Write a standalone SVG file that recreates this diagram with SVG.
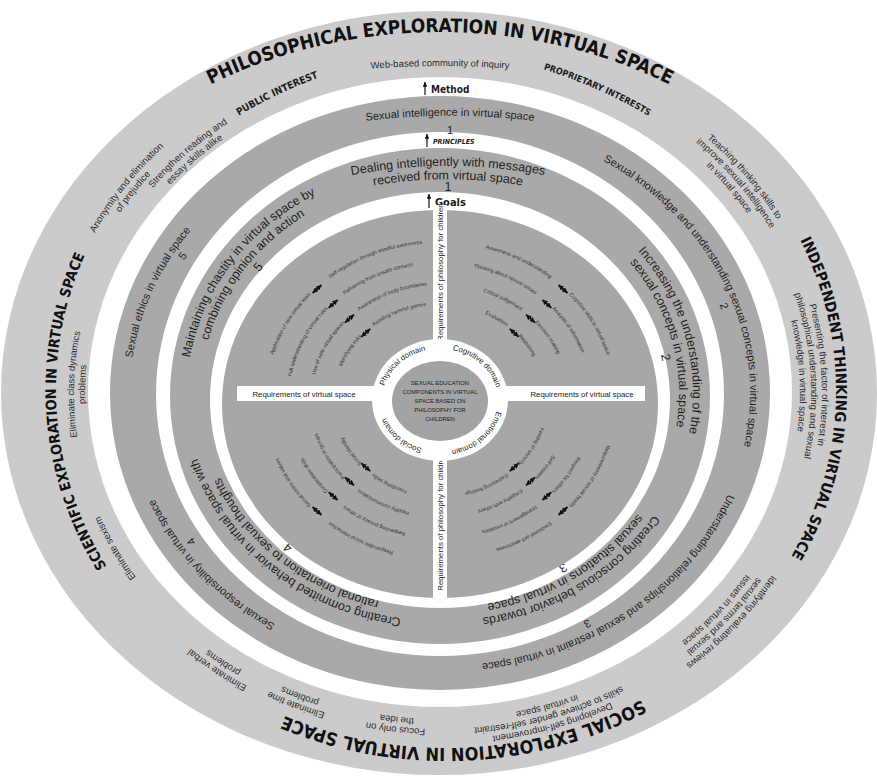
<svg xmlns="http://www.w3.org/2000/svg" width="877" height="780" viewBox="0 0 877 780">
<style>
.ttl{font-family:"DejaVu Sans Condensed","DejaVu Sans","Liberation Sans",sans-serif;font-weight:bold;font-stretch:condensed;fill:#111}
.ob{font-family:"DejaVu Sans Condensed","DejaVu Sans","Liberation Sans",sans-serif;font-weight:bold;font-stretch:condensed;fill:#1c1c1c}
.o{font-family:"Liberation Sans",Arial,sans-serif;font-size:9.5px;fill:#2b2b2b}
.r2{font-family:"Liberation Sans",Arial,sans-serif;font-size:11px;fill:#1f1f1f}
.r3{font-family:"Liberation Sans",Arial,sans-serif;font-size:12.5px;fill:#1f1f1f}
.q{font-family:"Liberation Sans",Arial,sans-serif;font-size:5.3px;fill:#2e2e2e}
.lb{font-family:"Liberation Sans",Arial,sans-serif;font-size:7.8px;fill:#222}
.ctr{font-family:"Liberation Sans",Arial,sans-serif;font-size:5.8px;fill:#222;text-anchor:middle}
.m{text-anchor:middle}
.e{text-anchor:end}
.w{fill:#fff}
.g{fill:#a9a9a9}
.da{stroke:#111;stroke-width:1.8;fill:none;marker-start:url(#ah);marker-end:url(#ah)}
.ua{stroke:#111;stroke-width:1.2;marker-end:url(#up)}
</style>
<defs>
<marker id="ah" viewBox="0 0 6 6" refX="6" refY="3" markerWidth="3" markerHeight="3" orient="auto-start-reverse"><path d="M0,0L6,3L0,6z" fill="#111"/></marker>
<marker id="up" viewBox="0 0 6 6" refX="6" refY="3" markerWidth="4" markerHeight="4" orient="auto"><path d="M0,0L6,3L0,6z" fill="#111"/></marker>
<path id="pTt" d="M0,390A440,358 0 0 1 880,390"/>
<path id="pT" d="M446,748A390,358 0 0 1 446,32A390,358 0 0 1 446,748A390,358 0 0 1 446,32A390,358 0 0 1 446,748"/>
<path id="tWeb" d="M300,77A900,900 0 0 1 580,77"/>
<path id="tPub" d="M222,126A500,500 0 0 1 337,71"/>
<path id="tProp" d="M525,64A500,500 0 0 1 665,126"/>
<path id="tS1" d="M320,128A700,700 0 0 1 580,128"/>
<path id="tS1n" d="M410,135A700,700 0 0 1 490,135"/>
<path id="tD1" d="M330,180A500,500 0 0 1 566,180"/>
<path id="tD2" d="M360,188A450,450 0 0 1 536,188"/>
<path id="tD3" d="M418,192A450,450 0 0 1 478,192"/>
<path id="o1" d="M440,714A355,321 0 0 1 440,72A355,321 0 0 1 440,714A355,321 0 0 1 440,72A355,321 0 0 1 440,714"/>
<path id="o2" d="M440,719A360,326 0 0 1 440,67A360,326 0 0 1 440,719A360,326 0 0 1 440,67A360,326 0 0 1 440,719"/>
<path id="o3" d="M440,724A366,331 0 0 1 440,62A366,331 0 0 1 440,724A366,331 0 0 1 440,62A366,331 0 0 1 440,724"/>
<path id="o4" d="M440,729A371,336 0 0 1 440,57A371,336 0 0 1 440,729A371,336 0 0 1 440,57A371,336 0 0 1 440,729"/>
<path id="o5" d="M440,734A377,341 0 0 1 440,52A377,341 0 0 1 440,734A377,341 0 0 1 440,52A377,341 0 0 1 440,734"/>
<path id="o6" d="M440,739A382,346 0 0 1 440,47A382,346 0 0 1 440,739A382,346 0 0 1 440,47A382,346 0 0 1 440,739"/>
<path id="o7" d="M440,744A388,351 0 0 1 440,42A388,351 0 0 1 440,744A388,351 0 0 1 440,42A388,351 0 0 1 440,744"/>
<path id="r2a" d="M440,666A310,273 0 0 1 440,120A310,273 0 0 1 440,666A310,273 0 0 1 440,120A310,273 0 0 1 440,666"/>
<path id="r2b" d="M440,654A297,261 0 0 1 440,132A297,261 0 0 1 440,654A297,261 0 0 1 440,132A297,261 0 0 1 440,654"/>
<path id="r3a" d="M440,621A253,228 0 0 1 440,165A253,228 0 0 1 440,621A253,228 0 0 1 440,165A253,228 0 0 1 440,621"/>
<path id="r3b" d="M440,608A239,215 0 0 1 440,178A239,215 0 0 1 440,608A239,215 0 0 1 440,178A239,215 0 0 1 440,608"/>
<path id="r3c" d="M440,596A225,203 0 0 1 440,190A225,203 0 0 1 440,596A225,203 0 0 1 440,190A225,203 0 0 1 440,596"/>
<path id="q1" d="M440,557A174,157 0 0 1 440,243A174,157 0 0 1 440,557A174,157 0 0 1 440,243A174,157 0 0 1 440,557"/>
<path id="q2" d="M440,536A151,136 0 0 1 440,264A151,136 0 0 1 440,536A151,136 0 0 1 440,264A151,136 0 0 1 440,536"/>
<path id="q3" d="M440,515A128,115 0 0 1 440,285A128,115 0 0 1 440,515A128,115 0 0 1 440,285A128,115 0 0 1 440,515"/>
<path id="q4" d="M440,495A105,95 0 0 1 440,305A105,95 0 0 1 440,495A105,95 0 0 1 440,305A105,95 0 0 1 440,495"/>
<path id="pc" d="M440,451A58,51 0 0 1 440,349A58,51 0 0 1 440,451A58,51 0 0 1 440,349A58,51 0 0 1 440,451"/>
</defs>

<g id="outer-ring">
<ellipse cx="439" cy="393" rx="438" ry="382" fill="#cbcbcb"/>
<ellipse cx="440" cy="392" rx="352" ry="315" class="w"/>
<text class="ttl m" font-size="19"><textPath href="#pTt" startOffset="50%">PHILOSOPHICAL EXPLORATION IN VIRTUAL SPACE</textPath></text>
<text class="ttl m" font-size="15"><textPath href="#pT" startOffset="37.7%">INDEPENDENT THINKING IN VIRTUAL SPACE</textPath></text>
<text class="ttl m" font-size="18"><textPath href="#pT" startOffset="49.6%">SOCIAL EXPLORATION IN VIRTUAL SPACE</textPath></text>
<text class="ttl m" font-size="14.5"><textPath href="#pT" startOffset="62%">SCIENTIFIC EXPLORATION IN VIRTUAL SPACE</textPath></text>
<text class="ob m" font-size="10"><textPath href="#tPub" startOffset="50%">PUBLIC INTEREST</textPath></text>
<text class="o m" font-size="10.5"><textPath href="#tWeb" startOffset="50%">Web-based community of inquiry</textPath></text>
<text class="ob m" font-size="9"><textPath href="#tProp" startOffset="50%">PROPRIETARY INTERESTS</textPath></text>
<text class="o m" font-size="10"><textPath href="#o7" startOffset="32.4%">Teaching thinking skills to</textPath></text>
<text class="o m" font-size="10"><textPath href="#o5" startOffset="32.4%">improve sexual intelligence</textPath></text>
<text class="o m" font-size="10"><textPath href="#o3" startOffset="32.4%">in virtual space</textPath></text>
<text class="o m"><textPath href="#o6" startOffset="37.1%">Presenting the factor of interest in</textPath></text>
<text class="o m"><textPath href="#o4" startOffset="37.1%">philosophical understanding and sexual</textPath></text>
<text class="o m"><textPath href="#o2" startOffset="37.1%">knowledge in virtual space</textPath></text>
<text class="o m" font-size="9"><textPath href="#o7" startOffset="43%">Identifying evaluating reviews</textPath></text>
<text class="o m" font-size="9"><textPath href="#o5" startOffset="43%">sexual terms and sexual</textPath></text>
<text class="o m" font-size="9"><textPath href="#o3" startOffset="43%">issues in virtual space</textPath></text>
<text class="o m"><textPath href="#o6" startOffset="47.5%">Developing self-improvement</textPath></text>
<text class="o m"><textPath href="#o4" startOffset="47.5%">skills to achieve gender self-restraint</textPath></text>
<text class="o m"><textPath href="#o2" startOffset="47.5%">in virtual space</textPath></text>
<text class="o m"><textPath href="#o4" startOffset="51%">Focus only on</textPath></text>
<text class="o m"><textPath href="#o2" startOffset="51%">the idea</textPath></text>
<text class="o m" font-size="10"><textPath href="#o4" startOffset="53.3%">Eliminate time</textPath></text>
<text class="o m" font-size="10"><textPath href="#o2" startOffset="53.3%">problems</textPath></text>
<text class="o m" font-size="10"><textPath href="#o5" startOffset="55.2%">Eliminate verbal</textPath></text>
<text class="o m" font-size="10"><textPath href="#o3" startOffset="55.2%">problems</textPath></text>
<text class="o m" font-size="10"><textPath href="#o3" startOffset="58.8%">Eliminate sexism</textPath></text>
<text class="o m"><textPath href="#o3" startOffset="62.7%">Eliminate class dynamics</textPath></text>
<text class="o m"><textPath href="#o1" startOffset="62.7%">problems</textPath></text>
<text class="o m" font-size="8.5"><textPath href="#o7" startOffset="67.3%">Anonymity and elimination</textPath></text>
<text class="o m" font-size="8.5"><textPath href="#o5" startOffset="67.3%">of prejudice</textPath></text>
<text class="o m" font-size="9"><textPath href="#o3" startOffset="68.75%">Strengthen reading and</textPath></text>
<text class="o m" font-size="9"><textPath href="#o1" startOffset="68.75%">essay skills alike</textPath></text>
</g>

<g id="method-ring">
<ellipse cx="440" cy="393" rx="330" ry="297" class="g"/>
<ellipse cx="440" cy="394" rx="284" ry="262" class="w"/>
<text class="r2 m" font-size="12"><textPath href="#tS1" startOffset="50%">Sexual intelligence in virtual space</textPath></text>
<text class="r2 m" font-size="12"><textPath href="#tS1n" startOffset="50%">1</textPath></text>
<text class="r2 m" font-size="10.5"><textPath href="#r2a" startOffset="34.3%">Sexual knowledge and understanding sexual concepts in virtual space</textPath></text>
<text class="r2 m"><textPath href="#r2b" startOffset="35%">2</textPath></text>
<text class="r2 m" font-size="10.5"><textPath href="#r2a" startOffset="44.6%">Understanding relationships and sexual restraint in virtual space</textPath></text>
<text class="r2 m"><textPath href="#r2b" startOffset="45.7%">3</textPath></text>
<text class="r2 m" font-size="12"><textPath href="#r2a" startOffset="57.1%">Sexual responsibility in virtual space</textPath></text>
<text class="r2 m"><textPath href="#r2b" startOffset="58%">4</textPath></text>
<text class="r2 m" font-size="12"><textPath href="#r2a" startOffset="65.4%">Sexual ethics in virtual space</textPath></text>
<text class="r2 m"><textPath href="#r2b" startOffset="66.6%">5</textPath></text>
<text class="ob" font-size="10" x="431" y="93">Method</text>
</g>

<g id="principles-ring">
<ellipse cx="440" cy="396" rx="270" ry="248" class="g"/>
<ellipse cx="440" cy="400" rx="230" ry="208" class="w"/>
<text class="ob" font-size="7" font-style="italic" x="433" y="144">PRINCIPLES</text>
<text class="r3 m" font-size="11.5"><textPath href="#tD1" startOffset="50%">Dealing intelligently with messages</textPath></text>
<text class="r3 m" font-size="11.5"><textPath href="#tD2" startOffset="50%">received from virtual space</textPath></text>
<text class="r3 m" font-size="11.5"><textPath href="#tD3" startOffset="50%">1</textPath></text>
<text class="r3 m"><textPath href="#r3a" startOffset="35.6%">Increasing the understanding of the</textPath></text>
<text class="r3 m"><textPath href="#r3b" startOffset="35.6%">sexual concepts in virtual space</textPath></text>
<text class="r3 m"><textPath href="#r3c" startOffset="36.2%">2</textPath></text>
<text class="r3 m"><textPath href="#r3a" startOffset="45.2%">Creating conscious behavior towards</textPath></text>
<text class="r3 m"><textPath href="#r3b" startOffset="45.2%">sexual situations in virtual space</textPath></text>
<text class="r3 m"><textPath href="#r3c" startOffset="45.3%">3</textPath></text>
<text class="r3 m" font-size="12"><textPath href="#r3a" startOffset="55.8%">Creating committed behavior in virtual space with</textPath></text>
<text class="r3 m" font-size="12"><textPath href="#r3b" startOffset="55.8%">rational orientation to sexual thoughts</textPath></text>
<text class="r3 m"><textPath href="#r3c" startOffset="56%">4</textPath></text>
<text class="r3 m"><textPath href="#r3a" startOffset="67.2%">Maintaining chastity in virtual space by</textPath></text>
<text class="r3 m"><textPath href="#r3b" startOffset="67.2%">combining opinion and action</textPath></text>
<text class="r3 m"><textPath href="#r3c" startOffset="67.5%">5</textPath></text>
</g>

<g id="goals-core">
<ellipse cx="440" cy="404" rx="218" ry="194" fill="#a7a7a7"/>
<text class="ob" font-size="11" x="435" y="206">Goals</text>
<rect class="w" x="433" y="205" width="14" height="142"/>
<rect class="w" x="433" y="455" width="14" height="150"/>
<rect class="w" x="237" y="386" width="143" height="15"/>
<rect class="w" x="500" y="386" width="145" height="15"/>
<text class="lb m" x="304" y="396.5">Requirements of virtual space</text>
<text class="lb m" x="582" y="396.5">Requirements of virtual space</text>
<text class="lb m" font-size="5.8" transform="translate(443,272) rotate(-90)">Requirements of philosophy for children</text>
<text class="lb m" font-size="5.8" transform="translate(443,522) rotate(-90)">Requirements of philosophy for children</text>
<ellipse cx="440" cy="400" rx="68" ry="61" class="w"/>
<ellipse cx="440" cy="401" rx="48" ry="40" fill="#a3a3a3"/>
<text class="lb m" font-size="6"><textPath href="#pc" startOffset="68.75%">Physical domain</textPath></text>
<text class="lb m" font-size="6"><textPath href="#pc" startOffset="31.25%">Cognitive domain</textPath></text>
<text class="lb m" font-size="6"><textPath href="#pc" startOffset="43.75%">Emotional domain</textPath></text>
<text class="lb m" font-size="6"><textPath href="#pc" startOffset="56.25%">Social domain</textPath></text>
<text class="ctr" x="440" y="385">SEXUAL EDUCATION</text>
<text class="ctr" x="440" y="394">COMPONENTS IN VIRTUAL</text>
<text class="ctr" x="440" y="403">SPACE BASED ON</text>
<text class="ctr" x="440" y="412">PHILOSOPHY FOR</text>
<text class="ctr" x="440" y="421">CHILDREN</text>
</g>

<g id="quadrant-tl">
<text class="q e"><textPath href="#q1" startOffset="68.15%">Application of new virtual tools</textPath></text>
<text class="q"><textPath href="#q1" startOffset="69.35%">Self-regulation through mindful awareness</textPath></text>
<text class="q e"><textPath href="#q2" startOffset="68.15%">Full understanding of virtual rules</textPath></text>
<text class="q"><textPath href="#q2" startOffset="69.35%">Refraining from unsafe contacts</textPath></text>
<text class="q e"><textPath href="#q3" startOffset="68.15%">Use of safe virtual spaces</textPath></text>
<text class="q"><textPath href="#q3" startOffset="69.35%">Awareness of body boundaries</textPath></text>
<text class="q e"><textPath href="#q4" startOffset="68.15%">Identifying risks</textPath></text>
<text class="q"><textPath href="#q4" startOffset="69.35%">Avoiding harmful games</textPath></text>
</g>
<g id="quadrant-tr">
<text class="q e"><textPath href="#q1" startOffset="30.65%">Awareness and understanding</textPath></text>
<text class="q"><textPath href="#q1" startOffset="31.85%">Cognitive skills in virtual space</textPath></text>
<text class="q e"><textPath href="#q2" startOffset="30.65%">Thinking about sexual issues</textPath></text>
<text class="q"><textPath href="#q2" startOffset="31.85%">Analysis of information</textPath></text>
<text class="q e"><textPath href="#q3" startOffset="30.65%">Critical judgement</textPath></text>
<text class="q"><textPath href="#q3" startOffset="31.85%">Decision making</textPath></text>
<text class="q e"><textPath href="#q4" startOffset="30.65%">Evaluation</textPath></text>
<text class="q"><textPath href="#q4" startOffset="31.85%">Reasoning</textPath></text>
</g>
<g id="quadrant-br">
<text class="q e"><textPath href="#q1" startOffset="43.15%">Requirements of sexual health</textPath></text>
<text class="q"><textPath href="#q1" startOffset="44.35%">Emotional self-awareness</textPath></text>
<text class="q e"><textPath href="#q2" startOffset="43.15%">Respect for others</textPath></text>
<text class="q"><textPath href="#q2" startOffset="44.35%">Management of emotions</textPath></text>
<text class="q e"><textPath href="#q3" startOffset="43.15%">Self-esteem</textPath></text>
<text class="q"><textPath href="#q3" startOffset="44.35%">Empathy with others</textPath></text>
<text class="q e"><textPath href="#q4" startOffset="43.15%">Feeling of security</textPath></text>
<text class="q"><textPath href="#q4" startOffset="44.35%">Expressing feelings</textPath></text>
</g>
<g id="quadrant-bl">
<text class="q e"><textPath href="#q1" startOffset="55.65%">Responsible social interaction</textPath></text>
<text class="q"><textPath href="#q1" startOffset="56.85%">Social norms and values</textPath></text>
<text class="q e"><textPath href="#q2" startOffset="55.65%">Respecting privacy of others</textPath></text>
<text class="q"><textPath href="#q2" startOffset="56.85%">Cooperation skills</textPath></text>
<text class="q e"><textPath href="#q3" startOffset="55.65%">Healthy communication</textPath></text>
<text class="q"><textPath href="#q3" startOffset="56.85%">Participation in groups</textPath></text>
<text class="q e"><textPath href="#q4" startOffset="55.65%">Friendship skills</textPath></text>
<text class="q"><textPath href="#q4" startOffset="56.85%">Social identity</textPath></text>
</g>

<g id="connectors">
<line class="ua" x1="425" y1="95" x2="425" y2="82"/>
<line class="ua" x1="427" y1="147" x2="427" y2="134"/>
<line class="ua" x1="429" y1="208" x2="429" y2="194"/>
<line class="da" x1="312.6" y1="293" x2="321.5" y2="285"/>
<line class="da" x1="328.7" y1="307.8" x2="337.7" y2="299.8"/>
<line class="da" x1="345" y1="322.7" x2="354" y2="314.7"/>
<line class="da" x1="361.3" y1="336.8" x2="370.3" y2="328.8"/>
<line class="da" x1="558.5" y1="285" x2="567.5" y2="293"/>
<line class="da" x1="542.3" y1="299.8" x2="551.3" y2="307.8"/>
<line class="da" x1="526" y1="314.7" x2="535" y2="322.7"/>
<line class="da" x1="509.7" y1="328.8" x2="518.7" y2="336.8"/>
<line class="da" x1="567.5" y1="507" x2="558.5" y2="515"/>
<line class="da" x1="551.3" y1="492.2" x2="542.3" y2="500.2"/>
<line class="da" x1="535" y1="477.3" x2="526" y2="485.3"/>
<line class="da" x1="518.7" y1="463.2" x2="509.7" y2="471.2"/>
<line class="da" x1="321.5" y1="515" x2="312.5" y2="507"/>
<line class="da" x1="337.7" y1="500.2" x2="328.7" y2="492.2"/>
<line class="da" x1="354" y1="485.3" x2="345" y2="477.3"/>
<line class="da" x1="370.3" y1="471.2" x2="361.3" y2="463.2"/>
</g>
</svg>
